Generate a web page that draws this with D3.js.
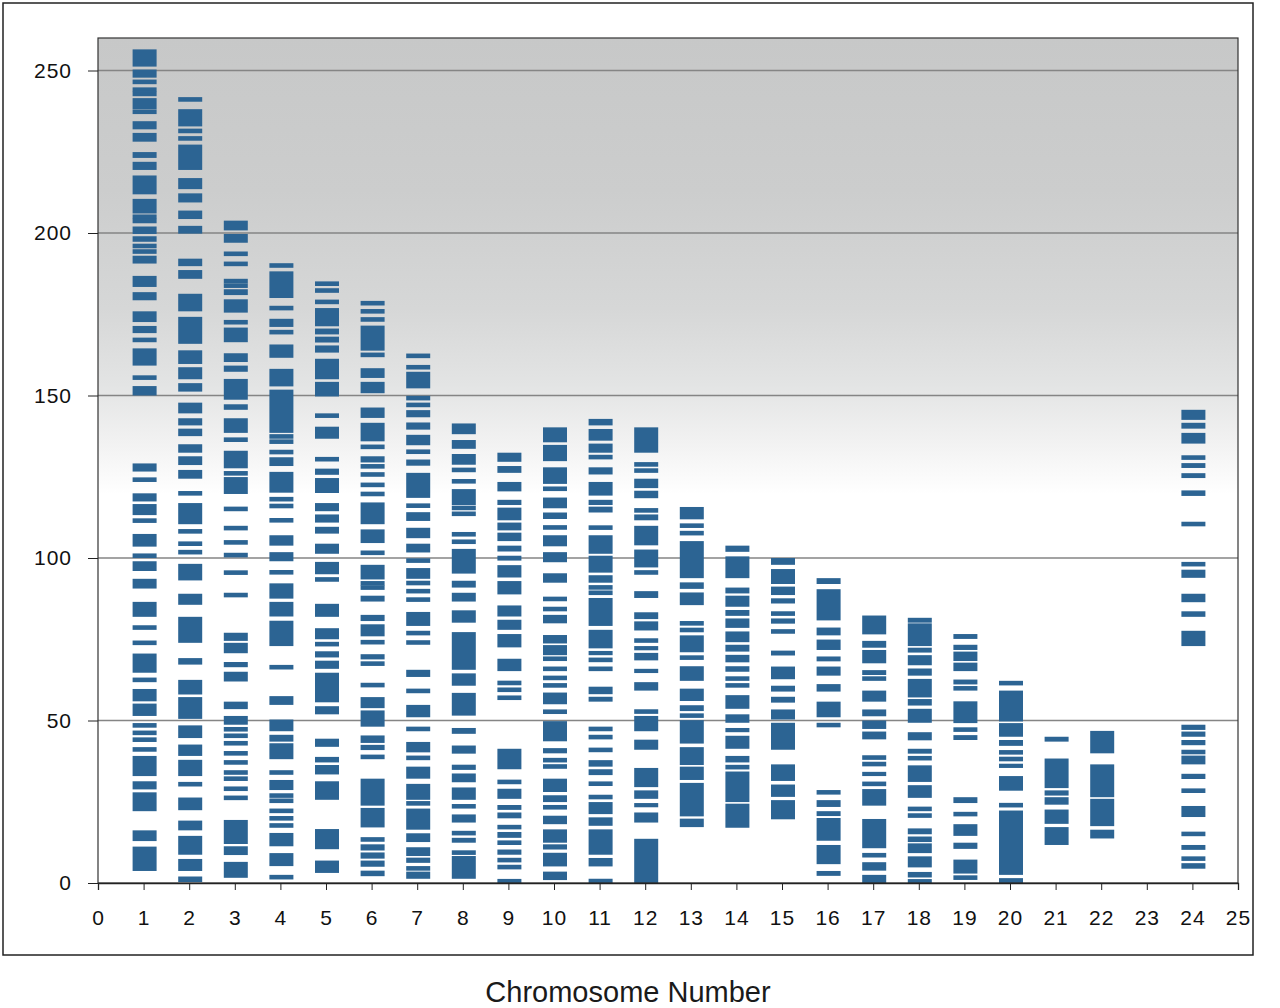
<!DOCTYPE html>
<html>
<head>
<meta charset="utf-8">
<script src="https://cdn.jsdelivr.net/npm/d3@7"></script>
<style>
  body { margin: 0; background: #fff; }
  svg { display: block; font-family: "Liberation Sans", Arial, sans-serif; }
  .axis text { font-size: 21px; fill: #111; letter-spacing: 1px; }
  .axis path, .axis line { stroke: #222; }
</style>
</head>
<body>
<svg id="chart"></svg>
<script>
// marker bands per chromosome: [low, high] in axis units (single markers have low == high)
var chr1 = [[251.2,256.5],[247.8,250.3],[246.5,246.5],[244.1,244.1],[242.8,242.8],[238.1,241.5],[237.3,237.3],[231.9,234.4],[228.1,230.8],[223.1,224.9],[219.4,221.9],[211.9,217.7],[206,210.5],[205,205],[203.7,203.7],[199.7,202],[197.3,199],[196,196],[194.3,194.3],[190.6,193],[183.4,186.8],[179.3,181.8],[172.6,175.9],[169.2,171.4],[167.1,167.1],[159.2,164.5],[155.5,155.5],[150,152.9],
  [126.6,129.1],[124.1,124.1],[117.4,119.9],[113.2,116.6],[111.5,111.5],[103.5,107.4],[100.7,100.7],[96,99],[90.6,93.6],[81.9,86.5],[78.6,78.6],[73.9,73.9],[64.7,70.6],[62.5,62.5],[55.9,59.7],[51.4,55.2],[48.5,48.5],[46.2,46.2],[44.1,44.1],[41.1,41.1],[32.9,39.1],[28.8,31.3],[22.1,27.9],[12.9,16.2],[3.7,11.2]];
var chr2 = [[241.1,241.1],[232.8,238.1],[231.4,231.4],[229.1,229.1],[219.4,227.2],[213.5,216.9],[209.4,212.2],[204.3,206.9],[199.8,202.2],[189.8,192.1],[185.9,188.6],[175.9,181.3],[165.9,174.2],[159.7,163.9],[155,158.7],[151.2,153.8],[144.5,147.8],[140.8,143],[137.5,139.8],[132.4,135],[128.6,131.3],[124.4,127.1],[119.9,119.9],[110.4,116.9],[108.2,108.2],[104.4,104.4],[101.8,101.8],[93.1,98.2],[85.6,89],[73.9,81.9],[67.2,69.2],[58,62.5],[50.5,57.2],[44.6,48.5],[39.1,42.6],[32.9,37.9],[30.4,30.4],[22.4,26.3],[16.2,19.2],[8.7,14.5],[3.7,7.4],[0.3,2]];
var chr3 = [[200.8,203.8],[197,199.7],[193.6,193.6],[190.5,190.5],[185.2,185.2],[183.8,183.8],[180.9,182.7],[175.5,179.6],[171.9,173.2],[166.4,170.9],[160.3,163],[157.3,159.2],[148.7,155.1],[145.6,147.3],[138.5,143],[136.4,136.4],[127.6,133],[125.6,126.5],[119.7,124.9],[115.1,115.1],[109.2,109.2],[104.8,104.8],[100.9,100.9],[95.5,95.5],[88.6,88.6],[74.5,77],[70.7,73.9],[66.4,68],[62,65],[53.5,55.8],[48.7,51.4],[47.3,47.3],[45.3,45.3],[43,43],[39.9,39.9],[37.1,37.1],[34,34],[32.1,32.1],[29,29],[26.2,26.2],[12,19.4],[8.6,11.3],[1.6,6.5]];
var chr4 = [[190,190],[180,188.2],[176.9,176.9],[171.1,173.6],[169.5,169.5],[161.6,165.7],[152.8,158.2],[138.5,151.8],[137.4,137.4],[135.8,135.8],[132.6,132.6],[128.3,131],[120.1,126.5],[118.1,118.1],[116,116],[111.6,111.6],[103.8,107],[99,101.8],[95.6,95.6],[87.5,92.2],[82,86.5],[72.9,80.7],[66.4,66.4],[54.8,57.5],[46.7,50.3],[43.5,45.6],[38.1,43],[34,34],[28.6,31.7],[26.9,26.9],[25.3,25.3],[22.2,22.2],[19.9,19.9],[17.7,17.7],[11.3,15.4],[5.2,9.2],[1.8,1.8]];
var chr5 = [[184.4,184.4],[182.3,182.3],[178.8,178.8],[171.3,176.9],[168.8,170.6],[166.3,168.1],[163.2,165.4],[155,161.3],[149.7,154.2],[143.8,143.8],[136.7,140.4],[130.4,130.4],[125.6,127.5],[120,124.6],[114.4,116.9],[110.9,113.4],[107.5,109.6],[101.3,104.4],[95,98.8],[93.4,93.4],[81.9,85.9],[75,78.4],[72.9,74.1],[69.4,71.3],[65.9,68.4],[55.6,64.7],[51.9,54.4],[41.9,44.4],[37.1,38.8],[33.4,36.3],[25.6,31.3],[10.4,16.6],[3.1,6.9]];
var chr6 = [[178.4,178.4],[175.9,175.9],[173.4,173.4],[163.8,171.5],[162.5,162.5],[155.4,158.4],[150.7,154.2],[143.1,146.3],[135.9,141.6],[134.2,134.2],[129.4,131.3],[128.2,128.2],[125.7,125.7],[122.5,122.5],[119.7,119.7],[110.4,117.1],[104.6,108.8],[101.6,101.6],[93.4,97.9],[92.2,92.2],[90.9,90.9],[86.6,88.4],[80.6,82.5],[75.9,79.6],[74.1,74.1],[68.8,70.4],[66.9,68.1],[60.9,60.9],[53.8,57.2],[48.1,53.1],[43.1,45.4],[40.9,42.5],[38.8,38.8],[23.8,32.1],[17.1,23.1],[13.4,13.4],[10,11.9],[7.5,9.4],[5,6.9],[2.1,3.8]];
var chr7 = [[162.2,162.2],[158.7,158.7],[152.2,157.3],[149.2,149.2],[147.1,147.1],[143.3,145.5],[139.5,141.7],[134.7,137.9],[132.7,132.7],[128.4,130.3],[118.5,126.2],[116.1,116.1],[111.4,114.1],[106.1,109.3],[101.7,104.4],[99.2,99.2],[93.6,96.9],[92.3,92.3],[89.8,89.8],[87.2,87.2],[79.1,83.4],[76.9,76.9],[73.3,74.7],[63.4,65.6],[59.1,59.1],[51,54.8],[47.4,47.4],[40.2,43.4],[38.5,38.5],[32.1,35.8],[25.6,30.5],[24.5,24.5],[16.4,22.9],[12.6,15.3],[8.3,11],[6.2,7.8],[4.5,4.5],[1.3,3.5]];
var chr8 = [[138.1,141.4],[133.6,136.3],[128.7,132],[127.1,127.1],[123.6,123.6],[116.3,121.2],[115.4,115.4],[113.6,113.6],[107.3,107.3],[105,105],[95.2,102.8],[90.9,93],[86.6,89.3],[80.1,83.9],[65.6,77.2],[60.7,64.5],[51.5,58.5],[45.9,47.7],[39.8,42.3],[34.8,36.4],[31,33.7],[25.6,29.4],[22.9,24.3],[18.6,21.1],[14.8,15.9],[12.4,13.9],[8.8,9.9],[1.3,8.3]];
var chr9 = [[129.6,132.4],[126.2,128.3],[120.5,123.4],[116.3,117.9],[111.6,115.5],[108.5,110.9],[105.2,107.8],[102,103.8],[99.2,100.7],[94,97.8],[88.8,92.9],[82,85.4],[77.9,81],[72.5,76.6],[65.2,69],[61,62.1],[58.9,60],[56.4,57.6],[35,41.3],[30.6,31.6],[25.9,29],[22.5,24],[19.9,21.7],[16.5,17.9],[13.9,15.7],[11.9,12.9],[8.7,10.3],[6.4,7.7],[4.9,4.9],[0,1.1]];
var chr10 = [[135.6,140.2],[129.8,134.8],[122.8,127.9],[121.3,121.3],[115.3,118.6],[112,114],[109.4,109.4],[103.6,107],[98.7,101.8],[92.4,95.3],[87.4,87.4],[84.3,84.3],[79.9,82.5],[73.7,76.3],[70.1,73.2],[69,69],[65.9,65.9],[63.1,63.1],[60.2,61.4],[55,58.6],[52.7,52.7],[43.6,49.8],[39.9,41.5],[37.8,37.8],[35.2,36.5],[28,32.1],[24.9,27],[23.3,23.3],[18.1,20.7],[12.4,16.5],[10.3,11.9],[5.1,9.3],[0.9,3.5]];
var chr11 = [[140.8,142.8],[136.1,139.7],[132.4,135.2],[130.4,131.7],[125.7,127.9],[119.2,123.4],[116.3,117.9],[114,115.8],[108.8,109.9],[101.3,107],[95.5,100.7],[92.4,94.7],[90.3,91.6],[88.8,89.8],[79.1,87.7],[72.2,77.9],[70.1,71.4],[68,69.3],[65.4,66.4],[58.1,60.4],[55.8,57.3],[46.9,47.9],[44.4,45.4],[40.4,41.5],[35.8,37.8],[33.2,35],[30,31.1],[25.9,27],[21.2,24.9],[17.6,20.2],[8.7,16.5],[5.1,7.7],[0,1.2]];
var chr12 = [[132.4,140.2],[128.3,129.3],[126.2,127.6],[121.5,124.4],[118.4,120.7],[114,115.3],[111.6,113.4],[103.9,109.9],[97.1,102.6],[95,96.1],[87.7,89.8],[81.2,83.3],[77.7,80.5],[73.9,75.3],[71.6,72.9],[68.5,70.8],[64.6,65.9],[59.2,61.8],[52.1,53.4],[46.7,51.4],[41,44.1],[29.5,35.4],[25.9,28.5],[23.3,24.6],[18.6,21.7],[0,13.6]];
var chr13 = [[111.9,115.7],[109.3,110.6],[107,108.3],[93.8,105.2],[90.5,92.5],[85.5,89.4],[79.3,80.5],[77.2,78.5],[71,76.2],[68.7,70],[62.2,66.7],[56,59.8],[52.9,54.7],[50.8,52.2],[42.9,50.1],[36.3,41.8],[31.7,35.8],[20.5,30.8],[17.2,19.8]];
var chr14 = [[101.9,103.8],[93.8,100.5],[89.1,90.9],[85,88.4],[82.2,84],[78.5,81.4],[74.1,77.4],[71.2,73.3],[67.9,70.2],[65,66.7],[62.2,63.6],[60.1,61.5],[53.6,57.8],[49.3,51.9],[46.4,47.7],[41.3,45.3],[37.1,39.1],[35,36.3],[24.9,34.3],[17,24.4]];
var chr15 = [[97.9,100],[92,96.6],[88.6,91.2],[86,87.6],[82.4,83.4],[79.8,81.4],[76.9,77.9],[70,71.5],[62.7,66.6],[58.9,60.7],[55.5,57.3],[50.3,53.4],[41,49.3],[31.4,36.5],[26.5,30.3],[19.6,25.5]];
var chr16 = [[92,93.8],[80.8,90.4],[76.2,78.6],[71.7,74.9],[68.2,69.7],[63.8,66.6],[58.9,61.2],[51,55.8],[47.9,49.3],[27.2,28.6],[23.4,25.5],[20.6,22.1],[13,20],[5.8,11.7],[2.2,3.7]];
var chr17 = [[76.5,82.3],[72.4,74.5],[67.6,71.7],[64,65.5],[62.2,63.6],[55.8,59.2],[51.3,53.4],[47.4,50],[44.2,46.6],[38.1,39.1],[36,37.2],[32.9,34.2],[29.9,31.1],[23.8,28.9],[10.7,19.7],[7.9,9.2],[3.8,6.4],[0,2.5]];
var chr18 = [[80.1,81.6],[72.9,79.9],[70.9,72.4],[67,70.1],[63.8,66],[57.1,62.8],[54.6,56.6],[49.3,53.6],[43.9,46.4],[39.8,41.3],[37.7,39.1],[31.1,36.2],[26.2,30.1],[22.1,23.5],[20.1,21.4],[15,16.8],[12.6,14.3],[9.2,12.2],[4.8,8.2],[1.7,3.4],[0,1]];
var chr19 = [[75.1,76.6],[71.7,73.3],[68.3,71.2],[65.2,67.8],[61.1,62.6],[59.2,60.6],[49.2,55.9],[46.6,47.8],[44,45.5],[24.6,26.4],[20.5,21.9],[14.5,18.1],[10.5,12.4],[2.9,7.2],[1,2.3]];
var chr20 = [[60.9,62.1],[49.7,59.2],[45,49.2],[42.2,44],[39.5,40.9],[37.5,38.8],[35.4,36.7],[28.4,32.9],[23.6,24.3],[2.5,22.3],[0,1.5]];
var chr21 = [[43.5,45],[29.2,38.3],[26.9,28.5],[24.1,26.4],[18.2,22.6],[11.7,17.2]];
var chr22 = [[39.9,46.8],[26.4,36.5],[17.5,25.9],[13.7,16.4]];
var chr24 = [[142.5,145.6],[139.8,141.6],[135.2,138.5],[130.3,131.5],[127.7,129.2],[124.6,126.1],[119.1,120.8],[109.8,111.1],[97.4,98.8],[93.9,96.4],[86.4,89],[81.9,83.6],[72.9,77.6],[47.1,48.7],[45,46.6],[42.4,44],[39.6,41],[36.5,39.2],[32,33.6],[27.8,29],[20.3,23.7],[14.4,15.8],[10.2,11.7],[6.8,8.2],[4.4,6.1]];

var chromosomes = [1,2,3,4,5,6,7,8,9,10,11,12,13,14,15,16,17,18,19,20,21,22,24];
var chrBands = [chr1,chr2,chr3,chr4,chr5,chr6,chr7,chr8,chr9,chr10,chr11,chr12,chr13,chr14,chr15,chr16,chr17,chr18,chr19,chr20,chr21,chr22,chr24];
var yTicks = [0,50,100,150,200,250];
var xTicks = d3.range(0,26);
var xTitle = "Chromosome Number";

var width = 1280, height = 1008;
var plot = {left: 98, right: 1238, top: 38, bottom: 883};

var svg = d3.select("#chart").attr("width", width).attr("height", height);

// outer frame
svg.append("rect")
  .attr("x", 3).attr("y", 3)
  .attr("width", 1250).attr("height", 952)
  .attr("fill", "none").attr("stroke", "#222").attr("stroke-width", 1.5);

var xscale = d3.scaleLinear().domain([0,25]).range([plot.left, plot.right]);
var yscale = d3.scaleLinear().domain([0,260]).range([plot.bottom, plot.top]);

// gray gradient background of the plot area
var grad = svg.append("defs").append("linearGradient")
  .attr("id","bg").attr("x1",0).attr("y1",0).attr("x2",0).attr("y2",1);
grad.append("stop").attr("offset","0").attr("stop-color","#c7c8c8");
grad.append("stop").attr("offset","0.18").attr("stop-color","#cccdcd");
grad.append("stop").attr("offset","0.32").attr("stop-color","#d6d7d7");
grad.append("stop").attr("offset","0.41").attr("stop-color","#e3e4e4");
grad.append("stop").attr("offset","0.48").attr("stop-color","#f2f2f2");
grad.append("stop").attr("offset","0.54").attr("stop-color","#ffffff");
grad.append("stop").attr("offset","1").attr("stop-color","#ffffff");

svg.append("rect")
  .attr("x", plot.left).attr("y", plot.top)
  .attr("width", plot.right - plot.left).attr("height", plot.bottom - plot.top)
  .attr("fill", "url(#bg)");

// gridlines
svg.append("g").selectAll("line")
  .data(yTicks.filter(function(d){ return d > 0; }))
  .enter().append("line")
  .attr("x1", plot.left).attr("x2", plot.right)
  .attr("y1", function(d){ return yscale(d); })
  .attr("y2", function(d){ return yscale(d); })
  .attr("stroke", "#858585").attr("stroke-width", 1.3);

// marker bands
var bandHalf = 12;
var groups = svg.append("g").selectAll("g")
  .data(chromosomes)
  .enter().append("g");

groups.each(function(c, i){
  d3.select(this).selectAll("rect")
    .data(chrBands[i])
    .enter().append("rect")
    .attr("x", xscale(c) - bandHalf + 1)
    .attr("width", bandHalf * 2)
    .attr("y", function(d){
      if (d[1] - d[0] < 1.3) return yscale((d[0] + d[1]) / 2) - 2.3;
      return yscale(d[1]);
    })
    .attr("height", function(d){
      if (d[1] - d[0] < 1.3) return 4.6;
      return yscale(d[0]) - yscale(d[1]);
    })
    .attr("fill", "#2c6493");
});

// plot border
svg.append("rect")
  .attr("x", plot.left).attr("y", plot.top)
  .attr("width", plot.right - plot.left).attr("height", plot.bottom - plot.top)
  .attr("fill", "none").attr("stroke", "#333").attr("stroke-width", 1.2);

// axes
var yaxis = d3.axisLeft(yscale).tickValues(yTicks).tickSize(10).tickPadding(16);
var xaxis = d3.axisBottom(xscale).tickValues(xTicks).tickSize(7).tickPadding(20);

svg.append("g")
  .attr("class","y axis")
  .attr("transform","translate(" + plot.left + ",0)")
  .call(yaxis)
  .call(function(g){ g.select(".domain").remove(); });

svg.append("g")
  .attr("class","x axis")
  .attr("transform","translate(0," + plot.bottom + ")")
  .call(xaxis)
  .call(function(g){ g.select(".domain").attr("stroke-width", 1.3); });

svg.selectAll(".axis text").attr("font-family", "Liberation Sans, Arial, sans-serif");

// axis title
svg.append("text")
  .attr("x", 628).attr("y", 1002)
  .attr("text-anchor", "middle")
  .attr("font-size", "29px")
  .attr("fill", "#1a1a1a")
  .text(xTitle);
</script>
</body>
</html>
